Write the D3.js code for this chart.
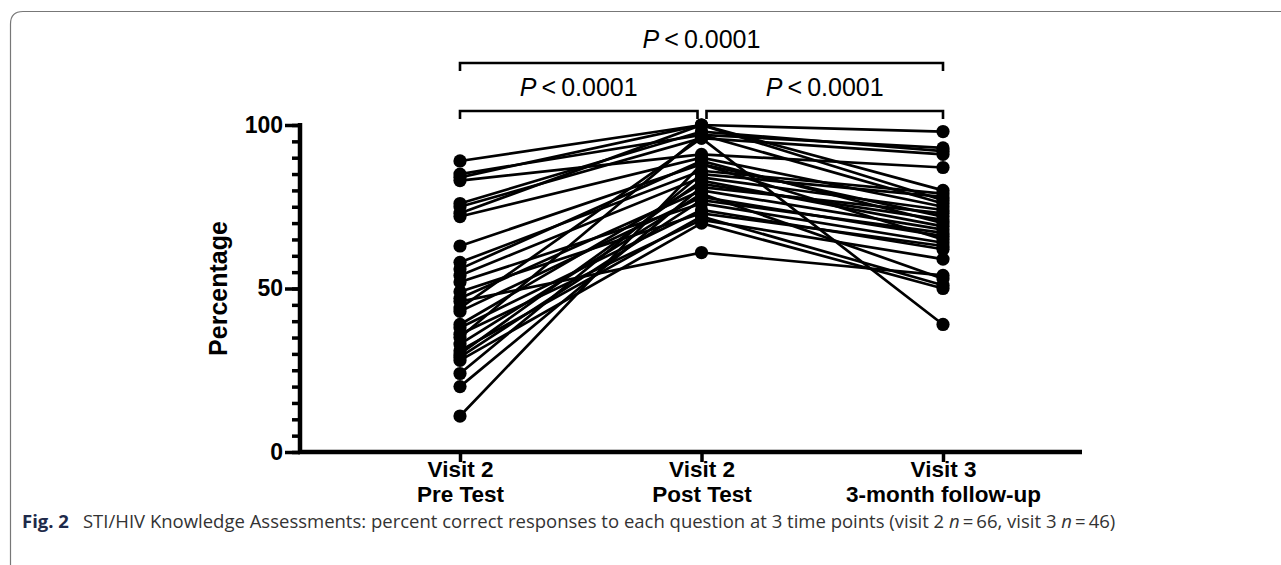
<!DOCTYPE html>
<html>
<head>
<meta charset="utf-8">
<script src="https://cdn.jsdelivr.net/npm/d3@7"></script>
<style>
  body { margin: 0; background: #fff; }
  svg { display: block; }
  .tick text { font-family: "Liberation Sans", Arial, sans-serif; font-weight: bold; fill: #000; }
</style>
</head>
<body>
<div id="chart"></div>
<script>
// time points (x categories)
var visits = ["pre", "post", "v3"];
var visitLabels = [["Visit 2", "Pre Test"], ["Visit 2", "Post Test"], ["Visit 3", "3-month follow-up"]];

// percent correct per question, one entry per question at each time point
var preTest  = [89, 85, 84, 83, 76, 75, 73, 72, 63, 58, 56, 54, 52, 49, 47, 46, 43, 39, 38, 36, 35, 33, 31, 30, 29, 28, 24, 20, 11, 44];
var postTest = [100, 97, 100, 91, 98, 96, 100, 90, 88, 86, 89, 84, 76, 73, 80, 61, 78, 82, 74, 71, 97, 79, 72, 83, 77, 70, 85, 81, 88, 96];
var visit3   = [98, 93, 80, 87, 92, 91, 77, 75, 72, 79, 70, 74, 64, 63, 68, 54, 66, 71, 62, 59, 76, 53, 51, 69, 67, 50, 78, 73, 65, 39];

var yTicks = [0, 50, 100];
var pLabels = ["P < 0.0001", "P < 0.0001", "P < 0.0001"];

var W = 1281, H = 565;

var svg = d3.select("#chart").append("svg")
    .attr("width", W)
    .attr("height", H);

// frame
svg.append("path")
    .attr("d", "M10.5," + H + " V24 Q10.5,11.5 23,11.5 H" + W)
    .attr("fill", "none")
    .attr("stroke", "#777")
    .attr("stroke-width", 1.2);

var x = d3.scalePoint().domain(visits).range([460, 943]);
var y = d3.scaleLinear().domain([0, 100]).range([452, 125]);

var rows = preTest.map(function (d, i) {
    return [
        {k: "pre", v: preTest[i]},
        {k: "post", v: postTest[i]},
        {k: "v3", v: visit3[i]}
    ];
});

// y axis with minor ticks every 5
svg.append("g")
    .attr("transform", "translate(300,0)")
    .call(d3.axisLeft(y).tickValues(d3.range(0, 101, 5)).tickSize(8).tickFormat(""))
    .call(function (g) {
        g.select(".domain").remove();
        g.selectAll("line").attr("stroke", "#000").attr("stroke-width", 3.5);
    });

svg.append("g")
    .attr("transform", "translate(300,0)")
    .call(d3.axisLeft(y).tickValues(yTicks).tickSize(15).tickPadding(2))
    .call(function (g) {
        g.select(".domain").attr("d", "M0," + (y(0) + 2) + "V" + (y(100) - 2)).attr("stroke", "#000").attr("stroke-width", 4.5);
        g.selectAll("line").attr("stroke", "#000").attr("stroke-width", 3.5);
        g.selectAll("text").style("font-size", "23px");
    });

// x axis
svg.append("line")
    .attr("x1", 298).attr("x2", 1082)
    .attr("y1", y(0)).attr("y2", y(0))
    .attr("stroke", "#000").attr("stroke-width", 4.5);

var xAxis = svg.append("g")
    .attr("transform", "translate(0," + y(0) + ")")
    .call(d3.axisBottom(x).tickSize(10).tickFormat(""))
    .call(function (g) {
        g.select(".domain").remove();
        g.selectAll("line").attr("stroke", "#000").attr("stroke-width", 3.5);
    });

xAxis.selectAll(".tick").each(function (d, i) {
    var tick = d3.select(this);
    visitLabels[i].forEach(function (s, j) {
        tick.append("text")
            .attr("fill", "#000")
            .attr("text-anchor", "middle")
            .attr("x", 0)
            .attr("y", 25 + j * 25)
            .style("font-size", "22.5px")
            .text(s);
    });
});

svg.append("text")
    .attr("transform", "translate(227," + y(50) + ") rotate(-90)")
    .attr("text-anchor", "middle")
    .style("font-family", "'Liberation Sans', Arial, sans-serif")
    .style("font-weight", "bold")
    .style("font-size", "25px")
    .text("Percentage");

// lines and dots
var line = d3.line()
    .x(function (d) { return x(d.k); })
    .y(function (d) { return y(d.v); });

svg.append("g").selectAll("path")
    .data(rows)
    .enter().append("path")
    .attr("d", line)
    .attr("fill", "none")
    .attr("stroke", "#000")
    .attr("stroke-width", 2.7);

svg.append("g").selectAll("circle")
    .data(rows.flat())
    .enter().append("circle")
    .attr("cx", function (d) { return x(d.k); })
    .attr("cy", function (d) { return y(d.v); })
    .attr("r", 6.6)
    .attr("fill", "#000");

// significance brackets
function bracket(x1, x2, yb, label) {
    svg.append("path")
        .attr("d", "M" + x1 + "," + (yb + 8) + "V" + yb + "H" + x2 + "V" + (yb + 8))
        .attr("fill", "none")
        .attr("stroke", "#000")
        .attr("stroke-width", 2.6);
    var t = svg.append("text")
        .attr("x", (x1 + x2) / 2)
        .attr("y", yb - 15)
        .attr("text-anchor", "middle")
        .style("font-family", "'Liberation Sans', Arial, sans-serif")
        .style("font-size", "25px");
    var parts = label.split(" ");
    t.append("tspan").style("font-style", "italic").text(parts[0]);
    t.append("tspan").text("\u2009" + parts.slice(1).join("\u2009"));
}

bracket(x("pre"), x("v3"), 63, pLabels[0]);
bracket(x("pre"), x("post") - 4, 111, pLabels[1]);
bracket(x("post") + 5, x("v3"), 111, pLabels[2]);

// caption
var cap = svg.append("text")
    .attr("x", 22)
    .attr("y", 528)
    .style("font-family", "'Open Sans', sans-serif")
    .style("font-size", "18.5px")
    .attr("fill", "#333");
cap.append("tspan").style("font-weight", "bold").attr("fill", "#1e2a4a").text("Fig. 2");
cap.append("tspan").text("\u2002 STI/HIV Knowledge Assessments: percent correct responses to each question at 3 time points (visit 2 ");
cap.append("tspan").style("font-style", "italic").text("n");
cap.append("tspan").text("\u2009=\u200966, visit 3 ");
cap.append("tspan").style("font-style", "italic").text("n");
cap.append("tspan").text("\u2009=\u200946)");
</script>
</body>
</html>
